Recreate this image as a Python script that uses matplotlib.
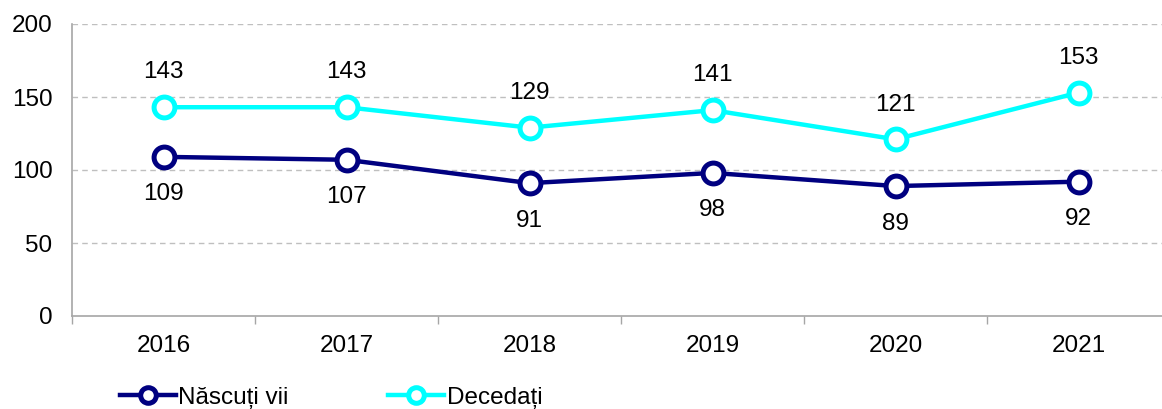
import matplotlib.pyplot as plt
from matplotlib.ticker import FixedLocator

years = ["2016", "2017", "2018", "2019", "2020", "2021"]
nascuti = [109, 107, 91, 98, 89, 92]
decedati = [143, 143, 129, 141, 121, 153]

plt.rcParams["font.family"] = ["Liberation Sans", "DejaVu Sans"]
fs = 17.5

fig = plt.figure(figsize=(11.62, 4.09), dpi=100)
ax = fig.add_axes([72 / 1162, 93 / 409, 1090 / 1162, 292 / 409])

x = list(range(len(years)))
grid_col = "#bfbfbf"
axis_col = "#a6a6a6"

for v in [50, 100, 150, 200]:
    ax.axhline(v, color=grid_col, linestyle=(0, (4, 3)), linewidth=1, zorder=0)

ln1, = ax.plot(x, nascuti, color="#000080", linewidth=3.2, marker="o",
               markersize=15, markerfacecolor="white", markeredgewidth=3.6,
               label="Născuți vii", zorder=3)
ln2, = ax.plot(x, decedati, color="#00FFFF", linewidth=3.2, marker="o",
               markersize=15, markerfacecolor="white", markeredgewidth=3.6,
               label="Decedați", zorder=3)

for xi, v in zip(x, nascuti):
    ax.annotate(str(v), (xi, v), xytext=(0, -27), textcoords="offset points",
                ha="center", va="center", fontsize=fs)
for xi, v in zip(x, decedati):
    ax.annotate(str(v), (xi, v), xytext=(0, 25), textcoords="offset points",
                ha="center", va="center", fontsize=fs)

ax.set_ylim(0, 200)
ax.set_xlim(-0.5, 5.5 - 8 / 183)
ax.set_yticks([0, 50, 100, 150, 200])
ax.set_xticks(x)
ax.set_xticklabels(years)
ax.xaxis.set_minor_locator(FixedLocator([i + 0.5 for i in range(-1, 6)]))
ax.tick_params(axis="x", which="major", length=0, pad=14, labelsize=fs)
ax.tick_params(axis="x", which="minor", length=6, color=axis_col, width=1)
ax.tick_params(axis="y", length=0, pad=14, labelsize=fs)

for s in ["top", "right"]:
    ax.spines[s].set_visible(False)
for s in ["left", "bottom"]:
    ax.spines[s].set_color(axis_col)
    ax.spines[s].set_linewidth(1.2)

fig.legend(handles=[ln1, ln2], loc="lower left", bbox_to_anchor=(98 / 1162, -0.053),
           ncol=2, frameon=False, fontsize=fs, handlelength=2.3,
           handletextpad=0.1, columnspacing=4.1, markerscale=0.75)

fig.savefig("out.png", dpi=100)
